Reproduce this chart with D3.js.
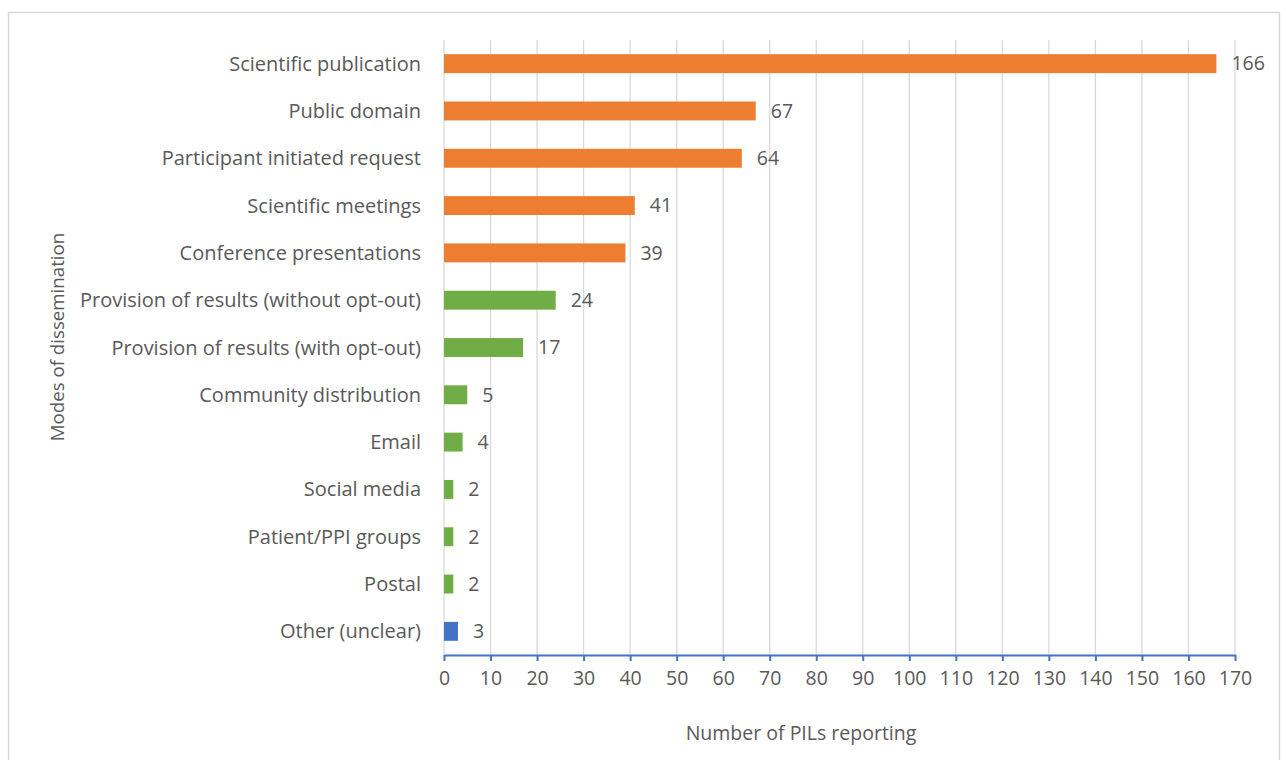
<!DOCTYPE html>
<html>
<head>
<meta charset="utf-8">
<script src="https://cdn.jsdelivr.net/npm/d3@7"></script>
<style>
  body { margin: 0; background: #fff; }
  svg text { font-family: "Open Sans", "Noto Sans", sans-serif; fill: #595959; }
</style>
</head>
<body>
<svg id="chart"></svg>
<script>
// data
const categories = [
  "Scientific publication", "Public domain", "Participant initiated request",
  "Scientific meetings", "Conference presentations",
  "Provision of results (without opt-out)", "Provision of results (with opt-out)",
  "Community distribution", "Email", "Social media", "Patient/PPI groups",
  "Postal", "Other (unclear)"
];
const counts = [166, 67, 64, 41, 39, 24, 17, 5, 4, 2, 2, 2, 3];
const groups = ["a", "a", "a", "a", "a", "b", "b", "b", "b", "b", "b", "b", "c"];
const xTicks = d3.range(0, 171, 10);

const colors = { a: "#ED7D31", b: "#70AD47", c: "#4472C4" };

const width = 1286, height = 760;
const margin = { top: 40, right: 51, bottom: 105, left: 444 };
const fs = 19.5;

const rows = categories.map((c, i) => ({ name: c, value: counts[i], group: groups[i] }));

const svg = d3.select("#chart")
  .attr("width", width)
  .attr("height", height);

// chart border (bottom edge runs off the page, as in the source)
svg.append("rect")
  .attr("x", 8.5).attr("y", 12.5)
  .attr("width", 1271).attr("height", 760)
  .attr("fill", "#fff")
  .attr("stroke", "#d9d9d9")
  .attr("stroke-width", 1.5);

const xScale = d3.scaleLinear()
  .domain([0, 170])
  .range([margin.left, width - margin.right]);

const yScale = d3.scaleBand()
  .domain(categories)
  .range([margin.top, height - margin.bottom])
  .paddingInner(0.6)
  .paddingOuter(0.3);

// gridlines
svg.append("g")
  .selectAll("line")
  .data(xTicks)
  .join("line")
  .attr("x1", d => xScale(d)).attr("x2", d => xScale(d))
  .attr("y1", margin.top).attr("y2", height - margin.bottom)
  .attr("stroke", "#d9d9d9")
  .attr("stroke-width", 1.3);

// bars
svg.append("g")
  .selectAll("rect")
  .data(rows)
  .join("rect")
  .attr("x", xScale(0))
  .attr("y", d => yScale(d.name))
  .attr("width", d => xScale(d.value) - xScale(0))
  .attr("height", yScale.bandwidth())
  .attr("fill", d => colors[d.group]);

// value labels
svg.append("g")
  .selectAll("text")
  .data(rows)
  .join("text")
  .attr("x", d => xScale(d.value) + 15)
  .attr("y", d => yScale(d.name) + yScale.bandwidth() / 2)
  .attr("dy", "0.35em")
  .attr("font-size", fs)
  .text(d => d.value);

// category labels
svg.append("g")
  .selectAll("text")
  .data(rows)
  .join("text")
  .attr("x", margin.left - 23)
  .attr("y", d => yScale(d.name) + yScale.bandwidth() / 2)
  .attr("dy", "0.35em")
  .attr("text-anchor", "end")
  .attr("font-size", 20)
  .text(d => d.name);

// x axis
const xAxis = svg.append("g")
  .attr("transform", `translate(0, ${height - margin.bottom})`)
  .call(d3.axisBottom(xScale).tickValues(xTicks).tickSize(6).tickPadding(10).tickSizeOuter(0));

xAxis.select(".domain").attr("stroke", "#4472C4").attr("stroke-width", 2);
xAxis.selectAll(".tick line").attr("stroke", "#4472C4").attr("stroke-width", 2);
xAxis.selectAll(".tick text")
  .attr("font-size", fs)
  .attr("fill", "#595959")
  .attr("font-family", "Open Sans, sans-serif");

// axis titles
svg.append("text")
  .attr("x", 801)
  .attr("y", 733)
  .attr("dy", "0.35em")
  .attr("text-anchor", "middle")
  .attr("font-size", fs)
  .text("Number of PILs reporting");

svg.append("text")
  .attr("transform", `translate(57, 337) rotate(-90)`)
  .attr("dy", "0.35em")
  .attr("text-anchor", "middle")
  .attr("font-size", 18.7)
  .text("Modes of dissemination");
</script>
</body>
</html>
